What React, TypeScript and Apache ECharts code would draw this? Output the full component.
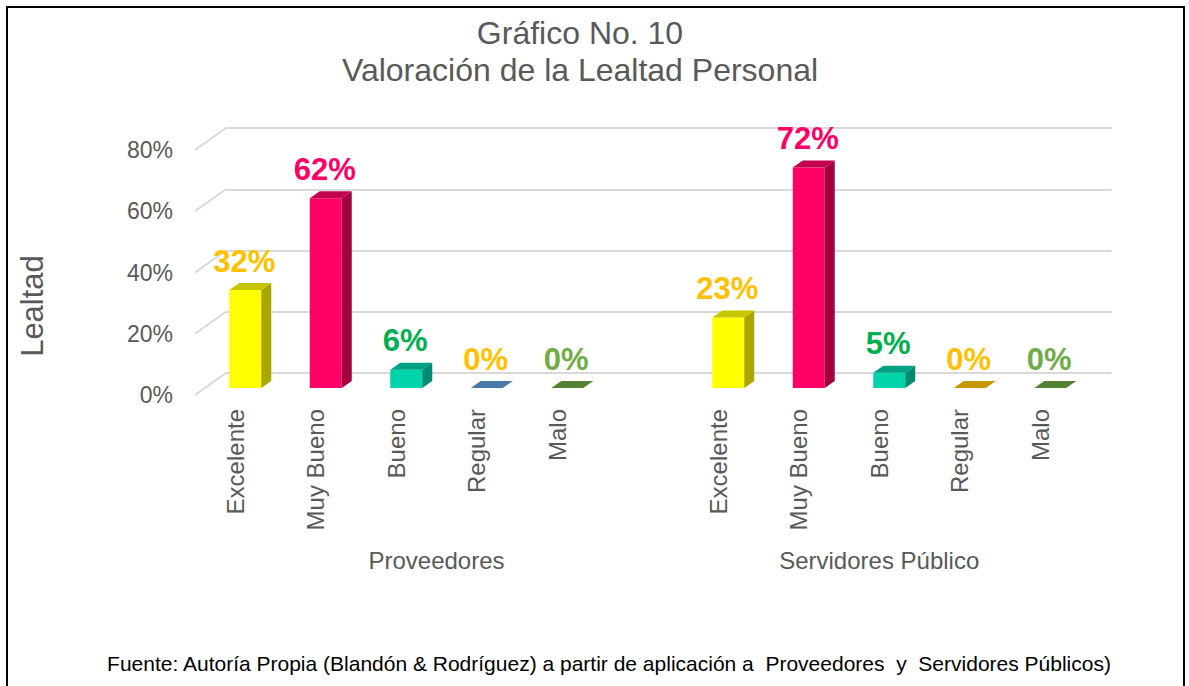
import React, { useEffect, useRef } from "react";
import * as echarts from "echarts";

const categories = ["Excelente", "Muy Bueno", "Bueno", "Regular", "Malo"];
const groups = ["Proveedores", "Servidores Público"];
const proveedores = [32, 62, 6, 0, 0];
const servidores = [23, 72, 5, 0, 0];
const yTicks = [0, 20, 40, 60, 80];

const FONT = "'Liberation Sans', Arial, sans-serif";
const TEXT = "#595959";

// colours per group & category: front, top, side, label
const frontColors = [
  ["#FFFF00", "#FF0066", "#00D4AA", "#5B8DBF", "#5F9140"],
  ["#FFFF00", "#FF0066", "#00D4AA", "#D9A400", "#5F9140"],
];
const topColors = [
  ["#C6C600", "#C2004E", "#00A283", "#4A7AA8", "#548235"],
  ["#C6C600", "#C2004E", "#00A283", "#C79700", "#548235"],
];
const sideColors = [
  ["#A8A800", "#A3003E", "#008C70", "#3D6790", "#466E2C"],
  ["#A8A800", "#A3003E", "#008C70", "#A88000", "#466E2C"],
];
const labelColors = ["#FFC000", "#FF0066", "#00B050", "#FFC000", "#70AD47"];

const BAR_W = 32;
const DX = 10;
const DY = 7;

export default function App() {
  const ref = useRef<HTMLDivElement>(null);
  useEffect(() => {
    if (!ref.current) return;
    const chart = echarts.init(ref.current, undefined, { renderer: "svg" });

    const slots = categories.length * 2 + 1;
    const axisCats: string[] = [];
    for (let i = 0; i < slots; i++) {
      if (i < categories.length) axisCats.push(categories[i]);
      else if (i === categories.length) axisCats.push("");
      else axisCats.push(categories[i - categories.length - 1]);
    }

    const barData: any[] = [];
    const barMeta: { g: number; i: number }[] = [];
    [proveedores, servidores].forEach((vals, g) => {
      vals.forEach((v, i) => {
        barData.push([g * (categories.length + 1) + i, v]);
        barMeta.push({ g, i });
      });
    });

    const groupData = [
      [0, 0, categories.length],
      [categories.length + 1, 0, slots - 1],
    ];

    const option: any = {
      animation: false,
      backgroundColor: "#ffffff",
      title: {
        text: "Gráfico No. 10\nValoración de la Lealtad Personal",
        left: 580,
        top: 14,
        textAlign: "center",
        padding: 0,
        textStyle: {
          fontFamily: FONT,
          fontSize: 32,
          lineHeight: 37,
          fontWeight: "normal",
          color: TEXT,
        },
      },
      grid: [
        { left: 195, top: 150, width: 885.5, height: 245, containLabel: false },
        { left: 226, top: 128, width: 885.5, height: 245, containLabel: false },
      ],
      xAxis: [
        {
          type: "category",
          gridIndex: 0,
          data: axisCats,
          axisLine: { show: false },
          axisTick: { show: false },
          splitLine: { show: false },
          axisLabel: {
            rotate: 90,
            margin: 14,
            fontSize: 24,
            fontFamily: FONT,
            color: TEXT,
            interval: 0,
          },
        },
        {
          type: "value",
          gridIndex: 1,
          min: 0,
          max: 1,
          show: false,
        },
      ],
      yAxis: [
        {
          type: "value",
          gridIndex: 0,
          min: 0,
          max: 80,
          interval: 20,
          axisLine: { show: false },
          axisTick: { show: false },
          splitLine: { show: false },
          axisLabel: {
            formatter: "{value}%",
            fontSize: 23,
            fontFamily: FONT,
            color: TEXT,
            margin: 22,
          },
        },
        {
          type: "value",
          gridIndex: 1,
          min: 0,
          max: 80,
          interval: 20,
          axisLine: { show: false },
          axisTick: { show: false },
          axisLabel: { show: false },
          splitLine: { show: true, lineStyle: { color: "#D9D9D9", width: 2 } },
        },
      ],
      graphic: [
        {
          type: "rect",
          shape: { x: 7, y: 7, width: 1177, height: 700 },
          style: { fill: "none", stroke: "#000000", lineWidth: 2 },
          z: 100,
        },
        {
          type: "text",
          x: 32,
          y: 306,
          rotation: Math.PI / 2,
          style: {
            text: "Lealtad",
            fontSize: 31,
            fontFamily: FONT,
            fill: TEXT,
            align: "center",
            verticalAlign: "middle",
          },
        },
        {
          type: "text",
          x: 609,
          y: 663,
          style: {
            text: "Fuente: Autoría Propia (Blandón & Rodríguez) a partir de aplicación a  Proveedores  y  Servidores Públicos)",
            fontSize: 21,
            fontFamily: FONT,
            fill: "#000000",
            align: "center",
            verticalAlign: "middle",
          },
        },
      ],
      series: [
        {
          type: "custom",
          xAxisIndex: 1,
          yAxisIndex: 1,
          data: [],
          renderItem: () => null,
        },
        {
          type: "custom",
          xAxisIndex: 0,
          yAxisIndex: 0,
          z: 1,
          data: yTicks.map((t) => [0, t]),
          renderItem: (params: any, api: any) => {
            const p = api.coord([api.value(0), api.value(1)]);
            const band = api.size([1, 0])[0];
            const left = p[0] - band / 2;
            return {
              type: "line",
              shape: { x1: left, y1: p[1], x2: left + 31, y2: p[1] - 22 },
              style: { stroke: "#D9D9D9", lineWidth: 2 },
            };
          },
        },
        {
          type: "custom",
          xAxisIndex: 0,
          yAxisIndex: 0,
          z: 5,
          data: barData,
          renderItem: (params: any, api: any) => {
            const slot = api.value(0);
            const v = api.value(1);
            const meta = barMeta[params.dataIndex];
            const base = api.coord([slot, 0]);
            const top = api.coord([slot, v]);
            const cx = base[0];
            const x0 = cx + DX - BAR_W / 2;
            const x1 = x0 + BAR_W;
            const yb = base[1] - DY;
            const yt = top[1] - DY;
            const children: any[] = [];
            if (v > 0) {
              children.push({
                type: "rect",
                shape: { x: x0, y: yt, width: BAR_W, height: yb - yt },
                style: { fill: frontColors[meta.g][meta.i] },
              });
              children.push({
                type: "polygon",
                shape: {
                  points: [
                    [x1, yt],
                    [x1 + DX, yt - DY],
                    [x1 + DX, yb - DY],
                    [x1, yb],
                  ],
                },
                style: { fill: sideColors[meta.g][meta.i] },
              });
            }
            children.push({
              type: "polygon",
              shape: {
                points: [
                  [x0, yt],
                  [x1, yt],
                  [x1 + DX, yt - DY],
                  [x0 + DX, yt - DY],
                ],
              },
              style: { fill: topColors[meta.g][meta.i] },
            });
            children.push({
              type: "text",
              style: {
                text: v + "%",
                x: cx + 9,
                y: yt - DY - 22,
                align: "center",
                verticalAlign: "middle",
                fontSize: 31,
                fontWeight: "bold",
                fontFamily: FONT,
                fill: labelColors[meta.i],
              },
            });
            return { type: "group", children };
          },
        },
        {
          type: "custom",
          xAxisIndex: 0,
          yAxisIndex: 0,
          z: 5,
          data: groupData,
          renderItem: (params: any, api: any) => {
            const a = api.coord([api.value(0), api.value(1)]);
            const b = api.coord([api.value(2), api.value(1)]);
            return {
              type: "text",
              style: {
                text: groups[params.dataIndex],
                x: (a[0] + b[0]) / 2,
                y: a[1] + 165,
                align: "center",
                verticalAlign: "middle",
                fontSize: 24,
                fontFamily: FONT,
                fill: TEXT,
              },
            };
          },
        },
      ],
    };

    chart.setOption(option);
    return () => chart.dispose();
  }, []);

  return (
    <div
      ref={ref}
      style={{ position: "fixed", left: 0, top: 0, width: 1189, height: 686, background: "#fff" }}
    />
  );
}
